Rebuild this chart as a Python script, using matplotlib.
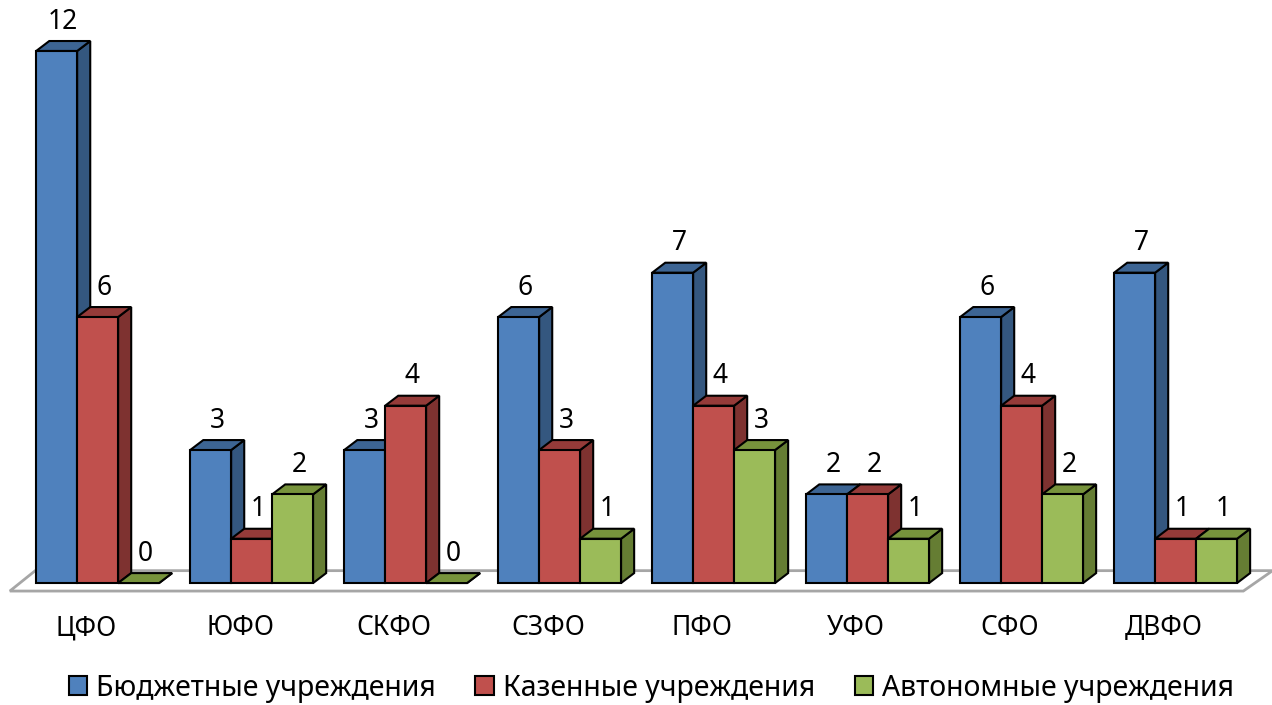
import numpy as np
import matplotlib.pyplot as plt
from matplotlib.patches import Polygon, Patch

plt.rcParams['font.family'] = ['Noto Sans', 'DejaVu Sans']

districts = ['ЦФО', 'ЮФО', 'СКФО', 'СЗФО', 'ПФО', 'УФО', 'СФО', 'ДВФО']
series = ['Бюджетные учреждения', 'Казенные учреждения', 'Автономные учреждения']
budget = [12, 3, 3, 6, 7, 2, 6, 7]
state = [6, 1, 4, 3, 4, 2, 4, 1]
auton = [0, 2, 0, 1, 3, 1, 2, 1]

# front / top / side colours
colors = [('#4f81bd', '#3d6594', '#34577f'),
          ('#c0504d', '#953b39', '#7e3230'),
          ('#9bbb59', '#77933c', '#657d33')]

bw = 0.266     # bar width in group units
dx = 0.085     # depth offset, x
dy = 0.225     # depth offset, y

fig = plt.figure(figsize=(12.72, 7.05), dpi=100)
ax = fig.add_axes([0, 0, 1, 1])
ax.set_xlim(-0.634, 7.626)
ax.set_ylim(-2.75, 13.15)
ax.axis('off')

# floor
floor = Polygon([(-0.57, -0.18), (7.44, -0.18), (7.63, 0.28), (-0.405, 0.28)],
                closed=True, facecolor='white', edgecolor='#a6a6a6', lw=2, zorder=1)
ax.add_patch(floor)

data = [budget, state, auton]
for i in range(len(districts)):
    for j in range(3):
        v = data[j][i]
        x0 = i + (j - 1.5) * bw
        cf, ct, cs = colors[j]
        side = Polygon([(x0 + bw, 0), (x0 + bw + dx, dy), (x0 + bw + dx, v + dy), (x0 + bw, v)],
                       closed=True, facecolor=cs, edgecolor='black', lw=1.5, zorder=2)
        top = Polygon([(x0, v), (x0 + dx, v + dy), (x0 + bw + dx, v + dy), (x0 + bw, v)],
                      closed=True, facecolor=ct, edgecolor='black', lw=1.5, zorder=2)
        ax.add_patch(side)
        ax.add_patch(top)
        if v > 0:
            front = Polygon([(x0, 0), (x0 + bw, 0), (x0 + bw, v), (x0, v)],
                            closed=True, facecolor=cf, edgecolor='black', lw=1.5, zorder=2)
            ax.add_patch(front)
        ax.text(x0 + bw / 2 + dx / 2, v + dy + 0.12, str(v), ha='center', va='bottom',
                fontsize=19, color='black', zorder=3)
    ax.text(i - 0.075, -1.02, districts[i], ha='center', va='center', fontsize=19)

handles = [Patch(facecolor=colors[j][0], edgecolor='black', lw=1.5) for j in range(3)]
fig.legend(handles, series, loc='center', bbox_to_anchor=(0.512, 0.024), ncol=3,
           frameon=False, fontsize=20.5, handlelength=0.65, handleheight=0.65,
           handletextpad=0.3, columnspacing=1.4, borderpad=0)

fig.savefig('out.png', dpi=100)
